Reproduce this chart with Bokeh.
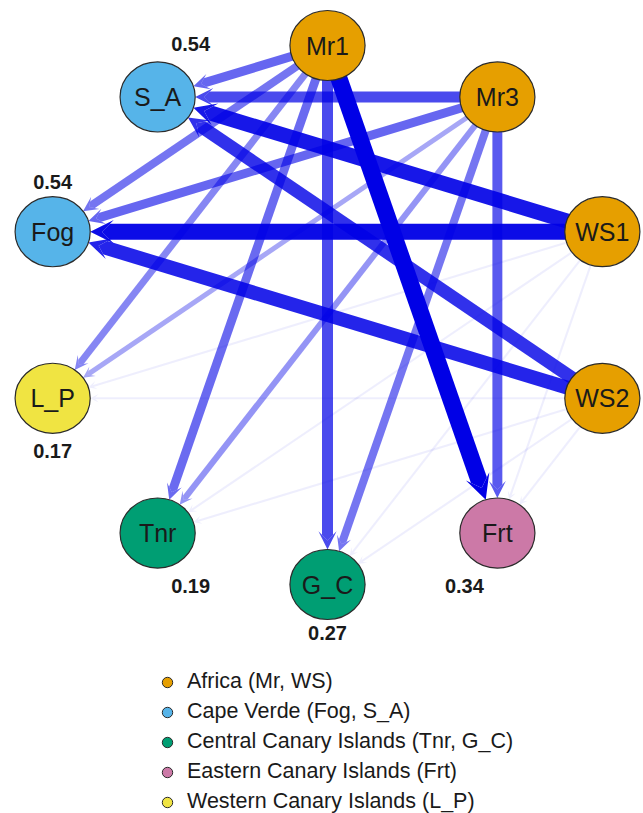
import math
from bokeh.plotting import figure
from bokeh.models import Range1d, Arrow, VeeHead, ColumnDataSource, Legend, LegendItem
from bokeh.core.properties import value
from bokeh.embed import file_html
from bokeh.resources import INLINE

# ---------------- data ----------------
node_names = ["Mr1", "Mr3", "WS1", "WS2", "Frt", "G_C", "Tnr", "L_P", "Fog", "S_A"]
node_groups = ["Africa", "Africa", "Africa", "Africa", "Eastern", "Central",
               "Central", "Western", "CapeVerde", "CapeVerde"]

group_keys = ["Africa", "CapeVerde", "Central", "Eastern", "Western"]
group_labels = ["Africa (Mr, WS)", "Cape Verde (Fog, S_A)",
                "Central Canary Islands (Tnr, G_C)", "Eastern Canary Islands (Frt)",
                "Western Canary Islands (L_P)"]
group_colors = ["#E69F00", "#56B4E9", "#009E73", "#CC79A7", "#F0E442"]

value_nodes = ["S_A", "Fog", "L_P", "Tnr", "G_C", "Frt"]
node_values = [0.54, 0.54, 0.17, 0.19, 0.27, 0.34]

edge_source = ["Mr1", "Mr1", "Mr1", "Mr1", "Mr1", "Mr1",
               "Mr3", "Mr3", "Mr3", "Mr3", "Mr3", "Mr3",
               "WS1", "WS1", "WS1", "WS1", "WS1", "WS1",
               "WS2", "WS2", "WS2", "WS2", "WS2", "WS2"]
edge_target = ["S_A", "Fog", "L_P", "Tnr", "G_C", "Frt",
               "S_A", "Fog", "L_P", "Tnr", "G_C", "Frt",
               "S_A", "Fog", "L_P", "Tnr", "G_C", "Frt",
               "S_A", "Fog", "L_P", "Tnr", "G_C", "Frt"]
edge_weight = [0.47, 0.40, 0.33, 0.45, 0.60, 1.00,
               0.60, 0.47, 0.20, 0.27, 0.40, 0.53,
               0.87, 0.93, 0.01, 0.01, 0.01, 0.01,
               0.73, 0.80, 0.01, 0.01, 0.01, 0.01]

# ---------------- layout ----------------
W, H = 643, 813
CX, CY = 327.0, 314.5      # circle centre in figure pixels (from top-left)
RX, RY = 289.0, 269.5      # pixels per data unit
NODE_R = 0.13              # node radius in data units

n = len(node_names)
pos = {}
for i, nm in enumerate(node_names):
    a = math.radians(90 - 360.0 / n * i)
    pos[nm] = (math.cos(a), math.sin(a))

p = figure(width=W, height=H, output_backend="svg", toolbar_location=None,
           x_range=Range1d(-CX / RX, (W - CX) / RX),
           y_range=Range1d(-(H - CY) / RY, CY / RY),
           min_border=0, outline_line_color=None)
p.axis.visible = False
p.xgrid.visible = False
p.ygrid.visible = False
p.background_fill_color = "white"

# ---------------- edges ----------------
order = sorted(range(len(edge_weight)), key=lambda k: edge_weight[k])
for k in order:
    w = edge_weight[k]
    sx, sy = pos[edge_source[k]]
    tx, ty = pos[edge_target[k]]
    dx, dy = tx - sx, ty - sy
    L = math.hypot(dx, dy)
    ex, ey = tx - dx / L * NODE_R, ty - dy / L * NODE_R
    lw = 2 + 15 * w
    alpha = 0.03 + 0.97 * w ** 0.7
    head = VeeHead(size=1.1 * lw + 6, fill_color="#0000e6", fill_alpha=alpha,
                   line_color=None)
    p.add_layout(Arrow(end=head, x_start=sx, y_start=sy, x_end=ex, y_end=ey,
                       line_color="#0000e6", line_alpha=alpha, line_width=lw,
                       level="underlay"))

# ---------------- nodes ----------------
col = {g: c for g, c in zip(group_keys, group_colors)}

# small markers (hidden under the nodes) that feed the legend
legend_renderers = []
for g in group_keys:
    xs = [pos[nm][0] for nm, gg in zip(node_names, node_groups) if gg == g]
    ys = [pos[nm][1] for nm, gg in zip(node_names, node_groups) if gg == g]
    r = p.scatter(x=xs, y=ys, marker="circle", size=8, fill_color=col[g],
                  line_color="#2b2b2b", line_width=1)
    legend_renderers.append(r)

nsrc = ColumnDataSource(dict(
    x=[pos[nm][0] for nm in node_names],
    y=[pos[nm][1] for nm in node_names],
    name=node_names,
    color=[col[g] for g in node_groups]))
p.ellipse(x="x", y="y", width=2 * NODE_R, height=2 * NODE_R, source=nsrc,
          fill_color="color", line_color="#2b2b2b", line_width=1.2)
p.text(x="x", y="y", text="name", source=nsrc, text_align="center",
       text_baseline="middle", text_font=value("Liberation Sans"),
       text_font_size="25px", text_color="#1a1a1a")

# ---------------- value labels ----------------
label_offset = {"S_A": (33, -53), "Fog": (0, -50), "L_P": (0, 53),
                "Tnr": (33, 53), "G_C": (0, 48), "Frt": (-33, 53)}
vsrc = ColumnDataSource(dict(
    x=[pos[nm][0] for nm in value_nodes],
    y=[pos[nm][1] for nm in value_nodes],
    t=["%.2f" % v for v in node_values],
    xo=[label_offset[nm][0] for nm in value_nodes],
    yo=[label_offset[nm][1] for nm in value_nodes]))
p.text(x="x", y="y", text="t", source=vsrc, x_offset="xo", y_offset="yo",
       text_align="center", text_baseline="middle",
       text_font=value("Liberation Sans"), text_font_style="bold",
       text_font_size="20px", text_color="#1a1a1a")

# ---------------- legend ----------------
items = [LegendItem(label=lab, renderers=[r])
         for lab, r in zip(group_labels, legend_renderers)]
legend = Legend(items=items, location=(154, -3.5), orientation="vertical",
                glyph_width=26, glyph_height=30, label_height=30, spacing=0,
                padding=0, margin=0, label_standoff=7,
                label_text_font="Liberation Sans", label_text_font_size="21.5px",
                label_text_color="#1a1a1a", border_line_color=None,
                background_fill_alpha=0)
p.add_layout(legend, "center")

open("out.html", "w").write(file_html(p, INLINE))
